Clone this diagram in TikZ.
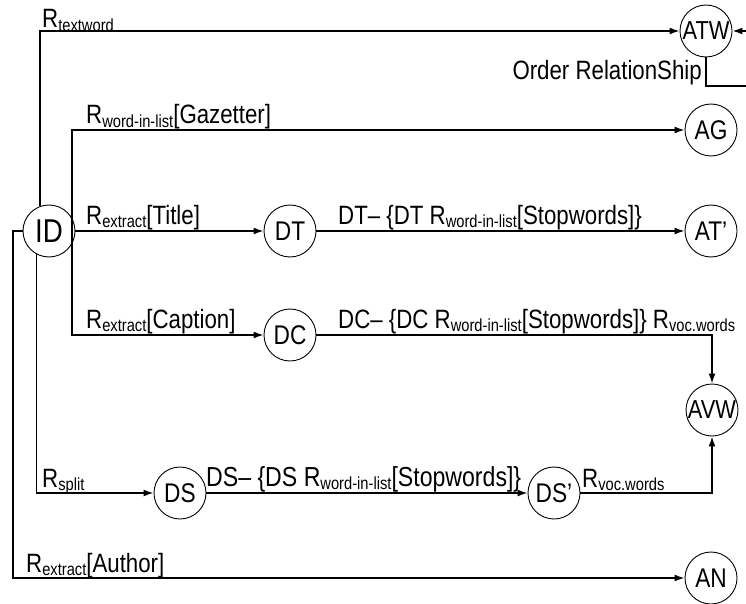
\documentclass[tikz,border=0pt]{standalone}
\usepackage{fontspec}
\setmainfont[FakeStretch=0.84]{Liberation Sans}
\usetikzlibrary{arrows.meta,backgrounds}
\newcommand{\lblfont}{\fontsize{26.5}{30}\selectfont}
\newcommand{\sbs}[1]{\raisebox{-0.12em}{\fontsize{17.5}{20}\selectfont #1}}
\newcommand{\Rs}[1]{R\sbs{#1}}
\begin{document}
\begin{tikzpicture}[x=1pt,y=-1pt,
  st/.style={circle,draw,line width=0.9pt,minimum size=52pt,inner sep=0pt,font=\fontsize{27}{29}\selectfont},
  conn/.style={line width=1.5pt},
  arr/.style={conn,-{Latex[length=10pt,width=7pt]}},
  lab/.style={anchor=base west,inner sep=0pt,font=\lblfont}]
\useasboundingbox (0,0) rectangle (746,604);
\clip (0,0) rectangle (746,604);
% nodes
\node[st,font=\fontsize{33}{35}\selectfont] (ID) at (49,231) {ID};
\node[st,font=\fontsize{26}{28}\selectfont] (ATW) at (706,31) {ATW};
\node[st] (AG) at (711,130) {AG};
\node[st] (DT) at (290,231) {DT};
\node[st] (ATp) at (711,231) {AT’};
\node[st] (DC) at (290,335) {DC};
\node[st,font=\fontsize{26}{28}\selectfont] (AVW) at (712,410) {AVW};
\node[st] (DS) at (180,493) {DS};
\node[st] (DSp) at (554,493) {DS’};
\node[st] (AN) at (711,578) {AN};
% helper coordinates
\coordinate (vx) at (72,231);
\coordinate (lx) at (13,231);
\coordinate (lp1) at (706,86);
\coordinate (lp2) at (760,86);
\coordinate (lp3) at (760,31);
% connectors
\draw[arr] (ID.110) |- (ATW);
\draw[arr] (vx) |- (AG);
\draw[arr] (vx) |- (DC);
\draw[arr] (ID) -- (DT);
\draw[arr] (DT) -- (ATp);
\draw[arr] (DC) -| (AVW);
\draw[arr] (ID.242.5) |- (DS);
\draw[arr] (DS) -- (DSp);
\draw[arr] (DSp) -| (AVW);
\draw[arr] (ID) -- (lx) |- (AN);
\draw[arr] (ATW.south) -- (lp1) -- (lp2) -- (lp3) -- (ATW);
% labels
\node[lab] (l1) at (42,28) {\Rs{textword}};
\node[lab,anchor=base east] (l2) at (702,80) {Order RelationShip};
\node[lab] (l3) at (86,124) {\Rs{word-in-list}[Gazetter]};
\node[lab] (l4) at (86,224) {\Rs{extract}[Title]};
\node[lab] (l5) at (338,224) {DT– \{DT \Rs{word-in-list}[Stopwords]\}};
\node[lab] (l6) at (86,328) {\Rs{extract}[Caption]};
\node[lab] (l7) at (338,328) {DC– \{DC \Rs{word-in-list}[Stopwords]\} \Rs{voc.words}};
\node[lab] (l8) at (42,487) {\Rs{split}};
\node[lab,font=\fontsize{27.5}{30}\selectfont] (l9) at (206,486) {DS– \{DS \Rs{word-in-list}[Stopwords]\}};
\node[lab] (l10) at (582,487) {\Rs{voc.words}};
\node[lab] (l11) at (26,572) {\Rs{extract}[Author]};
\end{tikzpicture}
\end{document}
